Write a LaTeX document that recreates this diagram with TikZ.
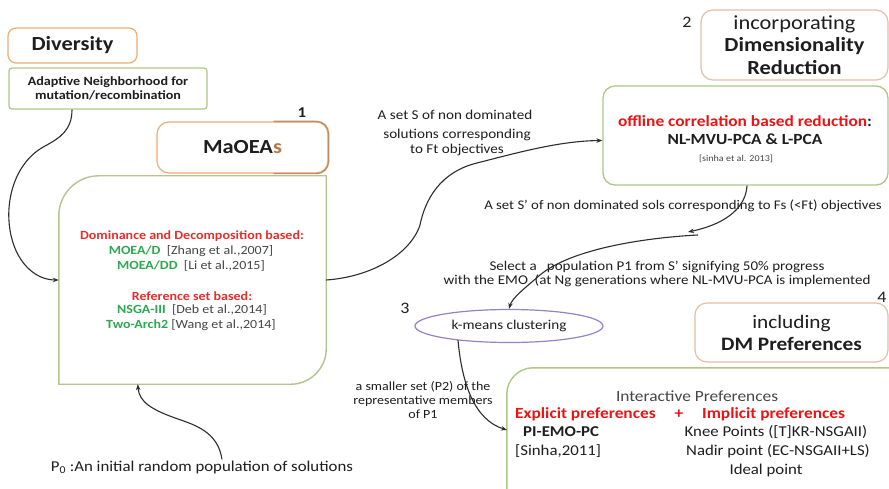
\documentclass[tikz,border=0pt]{standalone}
\usepackage{fontspec}
\setmainfont{Carlito}[FakeStretch=1.12]
\usetikzlibrary{shapes.geometric,arrows.meta,calc}
\definecolor{orangeb}{RGB}{238,172,115}
\definecolor{brownb}{RGB}{190,140,100}
\definecolor{tanb}{RGB}{226,192,162}
\definecolor{greenb}{RGB}{175,200,135}
\definecolor{maingb}{RGB}{180,196,145}
\definecolor{purpleb}{RGB}{150,130,200}
\definecolor{redt}{RGB}{232,45,45}
\definecolor{redtt}{RGB}{235,20,20}
\definecolor{greent}{RGB}{45,168,80}
\definecolor{grayt}{RGB}{70,70,70}
\definecolor{brownt}{RGB}{180,120,70}
\definecolor{txtc}{RGB}{30,30,30}
\definecolor{connc}{RGB}{45,45,45}
\begin{document}
\begin{tikzpicture}[x=1pt,y=-1pt,
  every node/.style={text=txtc},
  obox/.style={draw=orangeb, line width=1.2pt, rounded corners=8pt, fill=white, inner sep=0pt},
  tanbox/.style={draw=tanb, line width=1.2pt, rounded corners=12pt, fill=white, inner sep=0pt, align=center},
  gbox/.style={draw=greenb, line width=1.3pt, rounded corners=3pt, fill=white, inner sep=0pt, align=center},
  mtxt/.style={font=\fontsize{12.5}{14}\selectfont, inner sep=1pt},
  ltxt/.style={font=\fontsize{13.5}{15}\selectfont, inner sep=1pt, align=center},
  ptxt/.style={font=\fontsize{15}{17}\selectfont, inner sep=1pt},
  numtxt/.style={font=\fontsize{16}{19}\selectfont, inner sep=0pt},
  conn/.style={draw=connc, line width=1.1pt, -{Stealth[length=6pt,width=4.5pt]}}
]
\useasboundingbox (0,0) rectangle (889,489);
\fill[white] (0,0) rectangle (889,489);

% Diversity
\node[obox, minimum width=129pt, minimum height=35pt, font=\fontsize{20}{22}\selectfont\bfseries] (div) at (72.5,45.5)
  {Diversity};
\node[gbox, minimum width=198pt, minimum height=41pt, font=\fontsize{12.6}{14}\selectfont\bfseries] (adapt) at (108,88.5)
  {Adaptive Neighborhood for\\mutation/recombination};

% MaOEAs
\node[font=\fontsize{15}{18}\selectfont\bfseries, inner sep=0pt] (n1) at (302,113) {1};
\node[obox, rounded corners=12pt, minimum width=171pt, minimum height=51pt, font=\fontsize{20}{24}\selectfont\bfseries] (mao) at (242.5,147.5)
  {MaOEA\textcolor{brownt}{s}};
\draw[brownb, line width=1.3pt, rounded corners=12pt]
  ($(mao.north east)+(-55,0)$) -- (mao.north east) -- (mao.south east) -- ($(mao.south east)+(-55,0)$);

% main box
\node[minimum width=267pt, minimum height=208pt, inner sep=0pt] (main) at (192.5,280) {};
\draw[maingb, line width=1.4pt, fill=white]
  (main.south west) -- ($(main.north west)+(0,40)$)
  .. controls ($(main.north west)+(0,18)$) and ($(main.north west)+(18,0)$) .. ($(main.north west)+(40,0)$)
  -- (main.north east) -- ($(main.south east)+(0,-35)$)
  .. controls ($(main.south east)+(0,-16)$) and ($(main.south east)+(-16,0)$) .. ($(main.south east)+(-35,0)$)
  -- cycle;
\node[mtxt] (d1) at (192,236) {\bfseries\textcolor{redt}{Dominance and Decomposition based:}};
\node[mtxt] (d2) at (191,251) {\textcolor{greent}{\bfseries MOEA/D}\ \ \textcolor{grayt}{[Zhang et al.,2007]}};
\node[mtxt] (d3) at (191,266) {\textcolor{greent}{\bfseries MOEA/DD}\ \ \textcolor{grayt}{[Li et al.,2015]}};
\node[mtxt] (r1) at (192,296) {\bfseries\textcolor{redt}{Reference set based:}};
\node[mtxt] (r2) at (192,310) {\textcolor{greent}{\bfseries NSGA-III}\ \ \textcolor{grayt}{[Deb et al.,2014]}};
\node[mtxt] (r3) at (191,325) {\textcolor{greent}{\bfseries Two-Arch2}\ \textcolor{grayt}{[Wang et al.,2014]}};

% Dimensionality reduction
\node[numtxt] (n2) at (687,22) {2};
\node[tanbox, minimum width=187pt, minimum height=70pt, font=\fontsize{20}{22.5}\selectfont] (dim) at (794.5,45)
  {incorporating\\\textbf{Dimensionality}\\\textbf{Reduction}};
\node[gbox, rounded corners=12pt, minimum width=285pt, minimum height=99pt] (off) at (745.5,135.5) {};
\node[inner sep=1pt, font=\fontsize{15.5}{17}\selectfont\bfseries] (o1) at (745,121)
  {\textcolor{redtt}{offline correlation based reduction}:};
\node[inner sep=1pt, font=\fontsize{15.5}{17}\selectfont\bfseries] (o2) at (745,139) {NL-MVU-PCA \& L-PCA};
\node[inner sep=1pt, font=\fontsize{9}{10}\selectfont, text=grayt] (o3) at (736,159) {[sinha et al. 2013]};

% labels
\node[ltxt] (ls1) at (455,115) {A set S of non dominated};
\node[ltxt] (ls2) at (457,142) {solutions corresponding\\to Ft objectives};
\node[ltxt, font=\fontsize{13.2}{14}\selectfont] (lsp) at (683,206)
  {A set S’ of non dominated sols corresponding to Fs (<Ft) objectives};
\node[ltxt, font=\fontsize{13.4}{14}\selectfont] (lsel) at (657,274)
  {Select a \ \ population P1 from S’ signifying 50\% progress\\with the EMO \ (at Ng generations where NL-MVU-PCA is implemented};

% k-means
\node[numtxt] (n3) at (405,308) {3};
\node[ellipse, draw=purpleb, line width=1.2pt, fill=white, minimum width=188pt, minimum height=33pt, inner sep=0pt,
  font=\fontsize{13.5}{15}\selectfont] (km) at (509,326) {k-means clustering};

% DM preferences
\node[numtxt] (n4) at (882,297) {4};
\node[tanbox, minimum width=193pt, minimum height=59pt, font=\fontsize{19}{22}\selectfont] (dm) at (791.5,332.5)
  {including\\\textbf{DM Preferences}};

\node[ltxt, font=\fontsize{12.5}{14}\selectfont] (lsm) at (423,400)
  {a smaller set (P2) of the\\representative members\\of P1};

% preference box
\node[minimum width=382pt, minimum height=121pt, inner sep=0pt] (pref) at (698,428.5) {};
\draw[greenb, line width=1.4pt, fill=white]
  ($(pref.south west)+(0,5)$) -- ($(pref.north west)+(0,26)$)
  .. controls ($(pref.north west)+(0,12)$) and ($(pref.north west)+(12,0)$) .. ($(pref.north west)+(26,0)$)
  -- ($(pref.north east)+(5,0)$) -- ($(pref.south east)+(5,5)$) -- cycle;
\node[ptxt, text=grayt, font=\fontsize{15.5}{17}\selectfont] (ip) at (697,396) {Interactive Preferences};
\node[ptxt, anchor=west, font=\fontsize{15.5}{17}\selectfont\bfseries] (ex) at (514,414) {\textcolor{redtt}{Explicit preferences}};
\node[ptxt, font=\fontsize{15.5}{17}\selectfont\bfseries] (plus) at (679,414) {\textcolor{redtt}{+}};
\node[ptxt, anchor=west, font=\fontsize{15.5}{17}\selectfont\bfseries] (im) at (701,414) {\textcolor{redtt}{Implicit preferences}};
\node[ptxt, anchor=west, font=\fontsize{15}{17}\selectfont\bfseries] (pi) at (522,432) {PI-EMO-PC};
\node[ptxt, anchor=west] (sn) at (514,451) {[Sinha,2011]};
\node[ptxt] (kn) at (776,432) {Knee Points ([T]KR-NSGAII)};
\node[ptxt] (nd) at (778,451) {Nadir point (EC-NSGAII+LS)};
\node[ptxt] (idp) at (766,470) {Ideal point};

% P0
\node[inner sep=1pt, font=\fontsize{15}{17}\selectfont] (p0) at (202,467)
  {P\textsubscript{0} :An initial random population of solutions};

% connectors
\coordinate (s1) at (688,232);
\coordinate (s2) at (698,235);
\coordinate (prefin) at (507,430);
\draw[conn] ($(adapt.south)+(-36,0)$) .. controls (72,130) and (60,138) .. (45,146)
  .. controls (15,162) and (5,200) .. (10,230) .. controls (15,262) and (35,280) .. (main.west);
\draw[conn] ($(p0.north)+(20,0)$) .. controls (218,432) and (195,425) .. (178,419)
  .. controls (152,410) and (139,402) .. ($(main.south west)+(79,0)$);
\draw[conn] (main.east) .. controls (370,277) and (410,255) .. (420,225)
  .. controls (425,200) and (440,172) .. (477,163) .. controls (520,152) and (560,141) .. ($(off.west)+(0,5)$);
\draw[conn] ($(off.south)+(1.5,0)$) .. controls (746,205) and (730,223) .. (s1);
\draw[conn] (s2) .. controls (640,238) and (570,250) .. (540,275) .. controls (525,288) and (512,298) .. (km.north);
\draw[conn] ($(km.south)+(-51,-3)$) .. controls (462,385) and (475,420) .. (prefin);
\end{tikzpicture}
\end{document}
